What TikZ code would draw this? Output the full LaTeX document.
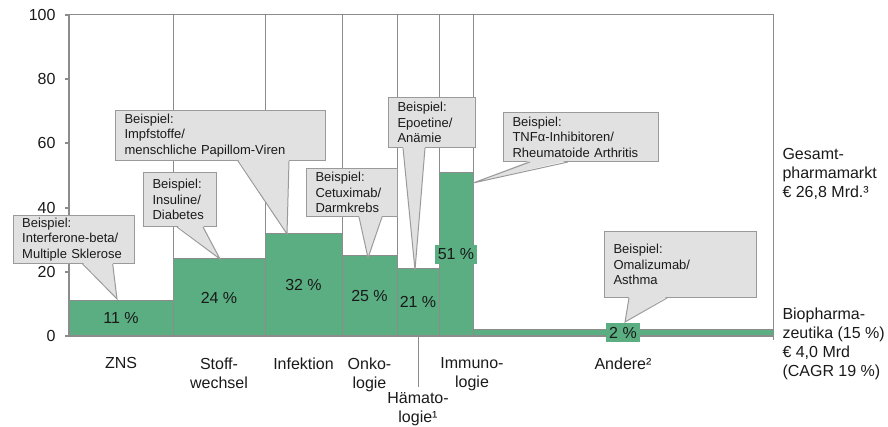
\documentclass[tikz,border=0pt]{standalone}
\usepackage{fontspec}
\setmainfont{Liberation Sans}
\usetikzlibrary{positioning}
\definecolor{cgreen}{HTML}{5AAE82}
\definecolor{cgrid}{HTML}{8C8C8C}
\definecolor{cnote}{HTML}{E1E1E1}
\definecolor{cnoteline}{HTML}{9A9A9A}
\definecolor{ctext}{HTML}{1A1A1A}
\tikzset{
  every picture/.style={line width=1pt},
  lbl/.style={font=\fontsize{16}{19}\selectfont, text=ctext, align=center, inner sep=0pt},
  pct/.style={lbl},
  pctbox/.style={lbl, fill=cgreen, inner xsep=3pt, inner ysep=3.75pt},
  colframe/.style={draw=cgrid, line width=1pt},
  axisline/.style={draw=cgrid, line width=2pt},
  notebox/.style={draw=cnoteline, fill=cnote, line width=1pt, anchor=north west, align=left, text width=#1, inner xsep=9pt, inner ysep=0pt, text=ctext, font=\fontsize{13}{15.5}\selectfont},
  noteline/.style={draw=cnoteline, line width=1pt},
}

\begin{document}
\begin{tikzpicture}[x=1pt, y=-1pt]
  \useasboundingbox (0,0) rectangle (888,427);
  % columns: left/right/share
  \foreach \l/\r/\v in {69/173/11, 173/265/24, 265/342/32, 342/397/25, 397/439/21, 439/473/51, 473/773/2} {
    \fill[cgreen] (\l,336) rectangle (\r,{336-3.21*\v});
    \draw[colframe] (\l,15) rectangle (\r,336);
    \draw[colframe] (\l,{336-3.21*\v}) -- (\r,{336-3.21*\v});
  }
  % axis
  \draw[axisline] (69,15) -- (69,336) -- (773,336);
  \draw[colframe] (773,336) -- (773,340);
  \foreach \v in {0,20,...,100} {
    \draw[axisline] (65,{336-3.21*\v}) -- (69,{336-3.21*\v});
    \node[lbl, anchor=east] (y\v) at (56,{336-3.21*\v}) {\v};
  }
  \foreach \l/\r/\v/\n/\s in {69/173/11/zns/pct, 173/265/24/stw/pct, 265/342/32/inf/pct, 342/397/25/onk/pct, 397/439/21/hae/pct, 439/473/51/imm/pctbox, 473/773/2/and/pctbox}
    \node[\s] (p\n) at ({(\l+\r)/2},{336-1.605*\v}) {\v~\%};

  % categories
  \node[lbl, anchor=north] (lzns) at (121,357) {ZNS};
  \node[lbl, anchor=north] (lstw) at (219,357) {Stoff-\\wechsel};
  \node[lbl, anchor=north] (linf) at (303.5,357) {Infektion};
  \node[lbl, anchor=north] (lonk) at (369.5,357) {Onko-\\logie};
  \node[lbl, anchor=north] (lhae) at (418,392) {Hämato-\\logie¹};
  \node[lbl, anchor=north] (limm) at (472,357) {Immuno-\\logie};
  \node[lbl, anchor=north] (land) at (623,357) {Andere²};
  \coordinate (bhae) at (418,336);
  \draw[colframe] (bhae) -- ([yshift=5pt]lhae.north);

  \node[lbl, anchor=north west, align=left] (ges) at (782,148) {Gesamt-\\pharmamarkt\\€ 26,8 Mrd.³};
  \node[lbl, anchor=north west, align=left] (bio) at (782,307) {Biopharma-\\zeutika (15~\%)\\€ 4,0 Mrd\\(CAGR 19~\%)};

  % callouts
  \node[notebox=103pt, minimum height=48pt] (nzns) at (12.7,215) {Beispiel:\\Interferone-beta/\\Multiple Sklerose};
  \node[notebox=55pt, minimum height=54pt] (nstw) at (143,172) {Beispiel:\\Insuline/\\Diabetes};
  \node[notebox=192pt, minimum height=50pt] (ninf) at (115,110) {Beispiel:\\Impfstoffe/\\menschliche Papillom-Viren};
  \node[notebox=73pt, minimum height=48pt] (nonk) at (306,168) {Beispiel:\\Cetuximab/\\Darmkrebs};
  \node[notebox=69pt, minimum height=50pt] (nhae) at (388,97) {Beispiel:\\Epoetine/\\Anämie};
  \node[notebox=137pt, minimum height=49pt] (nimm) at (503,112) {Beispiel:\\TNFα-Inhibitoren/\\Rheumatoide Arthritis};
  \node[notebox=134pt, minimum height=66pt] (nand) at (604,231) {Beispiel:\\Omalizumab/\\Asthma};
  \coordinate (tzns) at (117,299);
  \coordinate (tstw) at (220,259);
  \coordinate (tinf) at (287,234);
  \coordinate (tonk) at (368,258);
  \coordinate (thae) at (415,270);
  \coordinate (timm) at (473,183);
  \coordinate (tand) at (625,322);
  \foreach \n/\a/\b in {zns/70/100, stw/34/60, inf/123/174, onk/53/76, hae/15/37, imm/27/65, and/25/63} {
    \fill[cnote] ([xshift=\a pt, yshift=1.5pt]n\n.south west) -- (t\n) -- ([xshift=\b pt, yshift=1.5pt]n\n.south west) -- cycle;
    \draw[noteline] ([xshift=\a pt]n\n.south west) -- (t\n) -- ([xshift=\b pt]n\n.south west);
  }
\end{tikzpicture}
\end{document}
